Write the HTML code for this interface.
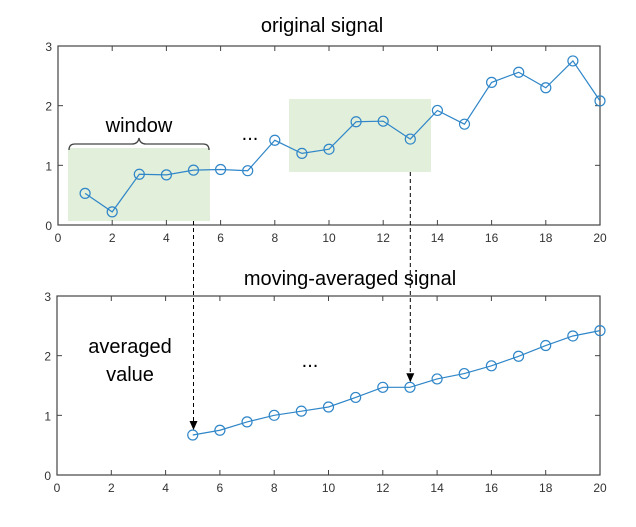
<!DOCTYPE html>
<html><head><meta charset="utf-8"><style>
body{margin:0;background:#fff;}
svg text{font-family:"Liberation Sans",sans-serif;}
</style></head><body>
<svg id="c" width="636" height="522" xmlns="http://www.w3.org/2000/svg"></svg>
<script>
const origX=[1,2,3,4,5,6,7,8,9,10,11,12,13,14,15,16,17,18,19,20];
const origY=[0.53,0.22,0.85,0.84,0.92,0.93,0.91,1.42,1.2,1.27,1.73,1.74,1.44,1.92,1.69,2.39,2.56,2.3,2.75,2.08];
const avgX=[5,6,7,8,9,10,11,12,13,14,15,16,17,18,19,20];
const avgY=[0.67,0.75,0.89,1.0,1.07,1.14,1.3,1.47,1.47,1.61,1.7,1.83,1.99,2.17,2.33,2.42];
const xTicks=[0,2,4,6,8,10,12,14,16,18,20];
const yTicks=[0,1,2,3];
const svgEl=document.getElementById('c');
const NS='http://www.w3.org/2000/svg';
function mk(t,a,p){const e=document.createElementNS(NS,t);for(const k in a)e.setAttribute(k,a[k]);(p||svgEl).appendChild(e);return e;}
function axes(name,y0,y1,L,R){
  const sx=v=>L+(R-L)*v/20, sy=v=>y1-(y1-y0)*v/3;
  const g=mk('g',{});
  
  
  mk('rect',{x:L,y:y0,width:R-L,height:y1-y0,fill:'none',stroke:'#444','stroke-width':1.2},g);
  xTicks.forEach(v=>{const x=sx(v);
    mk('line',{x1:x,y1:y1,x2:x,y2:y1-5,stroke:'#444'},g);
    mk('line',{x1:x,y1:y0,x2:x,y2:y0+5,stroke:'#444'},g);
    const t=mk('text',{x:x,y:y1+17,'text-anchor':'middle','font-size':12,fill:'#333'},g);t.textContent=v;
    
    });
  yTicks.forEach(v=>{const y=sy(v);
    mk('line',{x1:L,y1:y,x2:L+5,y2:y,stroke:'#444'},g);
    mk('line',{x1:R,y1:y,x2:R-5,y2:y,stroke:'#444'},g);
    const t=mk('text',{x:L-6,y:y+5,'text-anchor':'end','font-size':12,fill:'#333'},g);t.textContent=v;
    
    });
  return {sx,sy,g};
}
function series(a,xs,ys,name){
  const pts=xs.map((x,i)=>a.sx(x)+','+a.sy(ys[i])).join(' ');
  const pl=mk('polyline',{points:pts,fill:'none',stroke:'#2f86c8','stroke-width':1.2});
  
  
  xs.forEach((x,i)=>{const c=mk('circle',{cx:a.sx(x),cy:a.sy(ys[i]),r:5,fill:'none',stroke:'#2f86c8','stroke-width':1.2});
    
    });
}
function txt(s,x,y,size,name){const t=mk('text',{x:x,y:y,'text-anchor':'middle','font-size':size,fill:'#000'});t.textContent=s;
  
  return t;}

const w1=mk('rect',{x:68,y:148,width:142,height:73,fill:'#e2efdb'});


const w2=mk('rect',{x:289,y:99,width:142,height:73,fill:'#e2efdb'});



const topAx=axes('top-axes',46,225,58,600);
series(topAx,origX,origY,'original');
const botAx=axes('bottom-axes',296,475,57,600);
series(botAx,avgX,avgY,'averaged');

txt('original signal',322,32,20,'top-title');
txt('moving-averaged signal',350,285,20,'bottom-title');
txt('window',139,132,20,'window-label');
txt('averaged',130,353,20,'averaged-label-1');
txt('value',130,381,20,'averaged-label-2');
txt('...',250,140,20,'ellipsis-top');
txt('...',310,367,20,'ellipsis-bottom');

const br=mk('path',{d:'M69,150 q0,-6 6,-6 h57 q6,0 7,-6 q1,6 7,6 h57 q6,0 6,6',fill:'none',stroke:'#444','stroke-width':1.3});



function arrow(x,ya,yb,name){
  const l=mk('line',{x1:x,y1:ya,x2:x,y2:yb-8,stroke:'#000','stroke-dasharray':'4,3'});
  
  
  const h=mk('polygon',{points:`${x-4},${yb-9} ${x+4},${yb-9} ${x},${yb}`,fill:'#000'});
  
  
}
arrow(topAx.sx(5),221,botAx.sy(avgY[0])-5,'arrow-1');
arrow(topAx.sx(13),172,botAx.sy(avgY[8])-5,'arrow-2');
</script>
</body></html>
